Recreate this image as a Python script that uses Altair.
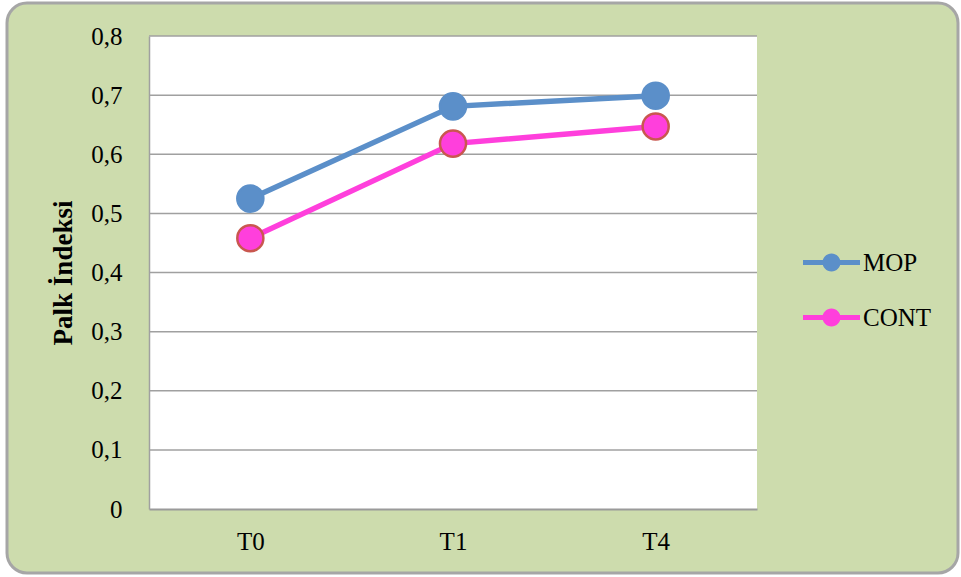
import altair as alt
import pandas as pd

# ---- data ----
categories = ["T0", "T1", "T4"]
series_names = ["MOP", "CONT"]
mop_values = [0.525, 0.681, 0.699]
cont_values = [0.458, 0.618, 0.647]
y_ticks = [0, 0.1, 0.2, 0.3, 0.4, 0.5, 0.6, 0.7, 0.8]

line_colors = ["#5b8fc9", "#ff3fdc"]
marker_strokes = ["#5b8fc9", "#c9574f"]

W, H = 608, 473
FONT = "Liberation Serif"
FS = 25

df = pd.DataFrame({
    "time": categories * 2,
    "value": mop_values + cont_values,
    "series": ["MOP"] * len(categories) + ["CONT"] * len(categories),
})
grid_df = pd.DataFrame({"value": y_ticks[1:]})
one_df = pd.DataFrame({"a": [0]})

yscale = alt.Scale(domain=[0, 0.8], nice=False, zero=True)
xscale = alt.Scale(type="point", padding=0.5)
color_scale = alt.Scale(domain=series_names, range=line_colors)
stroke_scale = alt.Scale(domain=series_names, range=marker_strokes)

legend_path = (
    "M-1,-0.088L-0.3,-0.088L-0.3,0.088L-1,0.088Z "
    "M0.3,-0.088L1,-0.088L1,0.088L0.3,0.088Z "
    "M0.316,0A0.316,0.316 0 1,1 -0.316,0A0.316,0.316 0 1,1 0.316,0Z"
)

x_axis = alt.Axis(
    title=None, labelAngle=0, ticks=False, grid=False,
    domain=True, domainColor="#9a9a9a", domainWidth=2,
    labelFont=FONT, labelFontSize=FS, labelColor="black", labelPadding=20,
    zindex=1,
)
y_axis = alt.Axis(
    values=y_ticks, grid=False, ticks=False,
    domain=True, domainColor="#a0a0a0", domainWidth=1.5,
    labelExpr="datum.value == 0 ? '0' : replace(format(datum.value, '.1f'), '.', ',')",
    labelFont=FONT, labelFontSize=FS, labelColor="black", labelPadding=27,
    title="Palk İndeksi", titleFont=FONT, titleFontSize=27, titleFontWeight="bold",
    titleColor="black", titleAngle=-90, titleX=-86, titleY=H / 2,
    titleAlign="center", titleBaseline="middle",
    zindex=1,
)
legend = alt.Legend(
    title=None, orient="none", legendX=654, legendY=198,
    symbolType=legend_path, symbolSize=3249, symbolStrokeWidth=0,
    labelFont=FONT, labelFontSize=FS, labelColor="black",
    labelOffset=3, rowPadding=13,
)

X = alt.X("time:N", sort=categories, scale=xscale, axis=x_axis)
Y = alt.Y("value:Q", scale=yscale, axis=y_axis)
C = alt.Color("series:N", scale=color_scale, legend=legend)

background = alt.Chart(one_df).mark_rect(
    cornerRadius=20, fill="#cddcad", stroke="#a6a6a6", strokeWidth=3
).encode(
    x=alt.value(-142), x2=alt.value(809), y=alt.value(-33), y2=alt.value(537)
)

plot_bg = alt.Chart(one_df).mark_rect(fill="white").encode(
    x=alt.value(0), x2=alt.value(W), y=alt.value(0), y2=alt.value(H)
)

grid = alt.Chart(grid_df).mark_rule(color="#a0a0a0", strokeWidth=1.5).encode(
    y=Y, x=alt.value(0), x2=alt.value(W),
)

lines = alt.Chart(df).mark_line(strokeWidth=5.5).encode(
    x=X, y=Y, color=C, detail="series:N",
)

points = alt.Chart(df).mark_point(filled=True, size=680, opacity=1, strokeWidth=2.5).encode(
    x=X, y=Y, color=C,
    stroke=alt.Stroke("series:N", scale=stroke_scale, legend=None),
)

chart = alt.layer(background, plot_bg, grid, lines, points).properties(
    width=W, height=H,
    autosize=alt.AutoSizeParams(type="none"),
    padding={"left": 149, "top": 36, "right": 204, "bottom": 68},
).configure(background="white").configure_view(stroke=None)

chart.save("out.html", embed_options={"renderer": "svg", "actions": False})
